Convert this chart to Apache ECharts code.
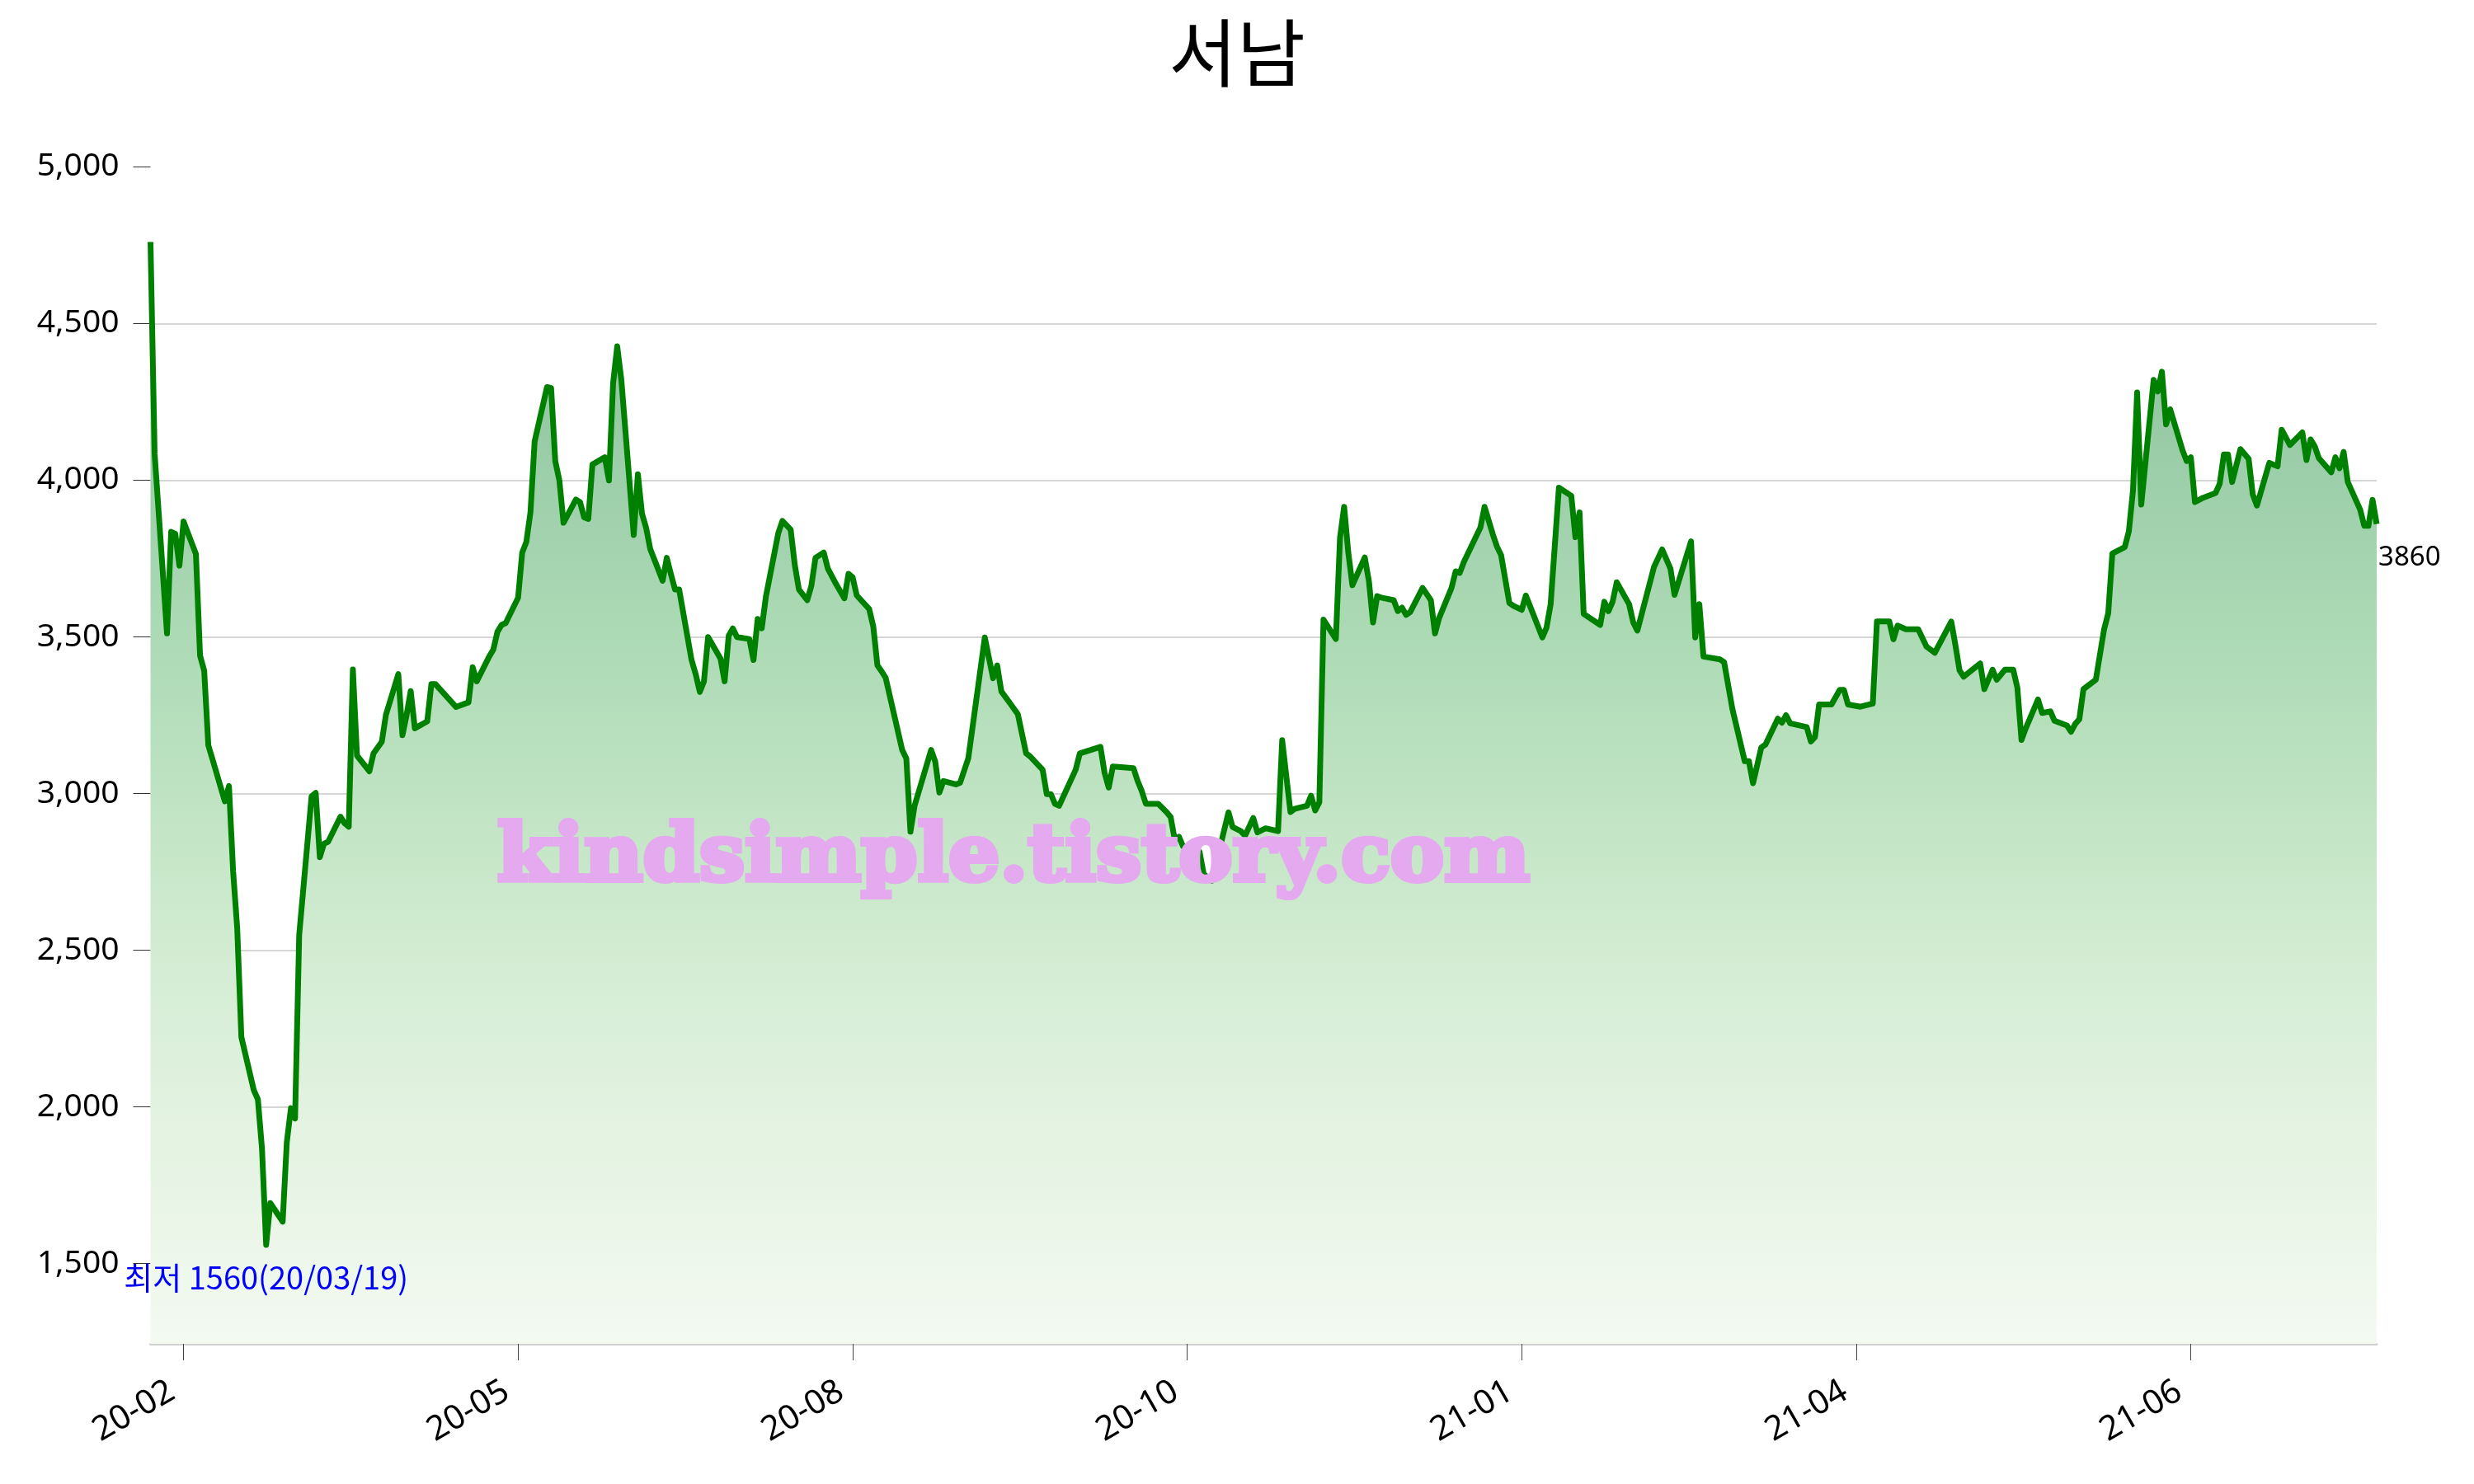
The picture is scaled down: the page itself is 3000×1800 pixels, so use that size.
<!DOCTYPE html>
<html>
<head>
<meta charset="utf-8">
<script src="https://cdn.jsdelivr.net/npm/echarts@6/dist/echarts.min.js"></script>
<style>
html,body{margin:0;padding:0;background:#ffffff;}
#chart{width:3000px;height:1800px;}
</style>
</head>
<body>
<div id="chart"></div>
<script>
// ---------------- data ----------------
const chartTitle = '서남';
const startDate = '2020-02-20';     // first calendar day of the x axis
const totalDays = 540;              // calendar days shown on the x axis

// trading days, as days counted from startDate
const daysFromStart = [
  0,1,4,5,6,7,8,11,12,13,
  14,15,18,19,20,21,22,25,26,27,
  28,29,32,33,34,35,36,39,40,41,
  42,43,46,47,48,49,50,53,54,56,
  57,60,61,62,63,64,67,68,69,74,
  77,78,79,82,83,84,85,86,89,90,
  91,92,93,96,97,98,99,100,103,104,
  105,106,107,110,111,112,113,114,117,118,
  119,120,121,124,125,126,127,128,131,132,
  133,134,135,138,139,140,141,142,145,146,
  147,148,149,152,153,155,156,157,159,160,
  161,163,164,166,168,169,170,171,174,175,
  176,177,178,182,183,184,185,189,190,191,
  192,195,196,198,202,204,205,206,208,210,
  212,213,216,217,218,219,220,224,225,230,
  231,232,233,238,239,240,241,244,246,247,
  248,249,250,254,255,257,259,261,262,264,
  265,267,268,270,273,274,276,277,280,281,
  282,283,284,287,288,289,290,291,294,295,
  296,297,298,301,302,303,304,305,308,310,
  311,312,315,316,317,318,322,323,325,326,
  327,329,330,332,333,337,338,339,341,344,
  345,346,347,351,352,353,354,355,358,359,
  360,364,366,368,369,373,374,375,376,380,
  381,383,386,387,388,390,391,394,395,396,
  397,401,402,403,404,407,409,410,411,414,
  417,418,421,422,423,425,428,430,432,436,
  437,438,439,443,444,446,447,449,451,452,
  453,454,457,458,460,461,464,465,466,467,
  468,471,473,474,475,478,479,480,481,482,
  485,486,487,488,489,492,493,494,495,497,
  500,501,502,503,504,506,508,509,510,513,
  515,516,518,521,522,523,524,525,528,529,
  530,531,532,535,536,537,538,539
];

// closing prices for those days
const closes = [
  4760,4084,3511,3835,3829,3727,3868,3764,3440,3392,
  3154,3110,2975,3024,2753,2569,2223,2054,2024,1866,
  1560,1693,1634,1887,1996,1963,2548,2991,3002,2797,
  2840,2846,2926,2905,2894,3396,3121,3071,3128,3165,
  3251,3381,3186,3250,3327,3208,3230,3349,3349,3276,
  3291,3403,3358,3437,3459,3516,3538,3544,3625,3769,
  3803,3898,4123,4297,4294,4061,3999,3864,3938,3930,
  3881,3876,4050,4073,3999,4309,4427,4320,3825,4019,
  3893,3848,3780,3679,3752,3700,3651,3651,3426,3381,
  3324,3358,3499,3431,3358,3504,3527,3499,3493,3426,
  3557,3527,3628,3831,3870,3842,3729,3651,3617,3662,
  3752,3769,3718,3668,3623,3701,3690,3632,3589,3533,
  3409,3390,3369,3139,3112,2878,2961,3139,3102,3003,
  3040,3029,3034,3112,3498,3368,3409,3326,3290,3253,
  3128,3118,3076,2998,2998,2967,2961,3076,3128,3149,
  3066,3019,3086,3081,3040,3008,2967,2967,2941,2925,
  2852,2862,2831,2814,2743,2722,2831,2940,2893,2880,
  2865,2922,2876,2889,2880,3170,2941,2951,2961,2993,
  2946,2972,3555,3493,3816,3915,3770,3665,3753,3678,
  3546,3630,3625,3617,3582,3593,3570,3579,3656,3617,
  3511,3560,3656,3709,3704,3739,3849,3915,3827,3788,
  3761,3608,3599,3586,3632,3498,3529,3604,3976,3950,
  3818,3897,3573,3538,3612,3582,3612,3674,3604,3546,
  3520,3722,3779,3718,3634,3805,3498,3604,3437,3428,
  3419,3270,3103,3103,3033,3147,3156,3239,3226,3250,
  3224,3212,3166,3180,3284,3284,3331,3331,3284,3277,
  3287,3549,3549,3492,3536,3524,3524,3469,3449,3549,
  3474,3393,3373,3415,3333,3395,3363,3395,3395,3338,
  3171,3207,3300,3257,3262,3232,3217,3197,3222,3237,
  3333,3363,3524,3575,3766,3786,3837,3968,4280,3922,
  4320,4283,4346,4178,4226,4095,4061,4073,3930,3944,
  3959,3989,4082,4082,3994,4099,4068,3954,3919,4055,
  4044,4161,4112,4152,4064,4130,4108,4070,4025,4073,
  4038,4090,3994,3906,3854,3854,3937,3860
];

// axis ticks
const yTickValues = [1500, 2000, 2500, 3000, 3500, 4000, 4500, 5000];
const xTickDays   = [8, 89, 170, 251, 332, 413, 494];
const xTickLabels = ['20-02', '20-05', '20-08', '20-10', '21-01', '21-04', '21-06'];

// annotations
const lowNote  = { day: 28,  value: 1560, text: '최저 1560(20/03/19)' };
const lastNote = { day: 539, value: 3860, text: '3860' };
const watermarkText = 'kindsimple.tistory.com';

// ---------------- build ----------------
const base = Date.UTC(2020, 1, 20);
const dayName = d => new Date(base + d * 86400000).toISOString().slice(0, 10);
const calendar = [];
for (let d = 0; d < totalDays; d++) calendar.push(dayName(d));
const seriesData = daysFromStart.map((d, i) => [dayName(d), closes[i]]);
const tickLabelOf = {};
xTickDays.forEach((d, i) => { tickLabelOf[d] = xTickLabels[i]; });
const isTick = idx => tickLabelOf[idx] !== undefined;

// watermark: stretch a bold serif to the width of the original lettering
const wmFontSize = 80;
const wmStroke = 5;
const measureCtx = document.createElement('canvas').getContext('2d');
measureCtx.font = 'bold ' + wmFontSize + 'px "DejaVu Serif"';
const wmWidth = measureCtx.measureText(watermarkText).width + wmStroke;
const wmScaleX = 1258 / wmWidth;

const chart = echarts.init(document.getElementById('chart'), null, { renderer: 'canvas' });

chart.setOption({
  animation: false,
  backgroundColor: '#ffffff',
  title: {
    text: chartTitle,
    left: 'center',
    top: 14,
    textStyle: { fontSize: 90, fontWeight: 'normal', color: '#000000', fontFamily: 'Noto Sans CJK KR' }
  },
  grid: { left: 182.5, right: 118, top: 107.2, bottom: 170, containLabel: false },
  xAxis: {
    type: 'category',
    data: calendar,
    boundaryGap: false,
    axisLine: { show: true, lineStyle: { color: '#d0d0d0', width: 3 } },
    axisTick: { show: true, interval: isTick, length: 20, lineStyle: { color: '#444444', width: 1 } },
    axisLabel: {
      show: true,
      interval: isTick,
      formatter: (v, idx) => tickLabelOf[idx] || '',
      rotate: 30,
      margin: 47,
      padding: [0, 16, 0, 0],
      fontSize: 41,
      color: '#000000',
      fontFamily: 'Noto Sans'
    },
    splitLine: { show: false }
  },
  yAxis: {
    type: 'value',
    min: 1244,
    max: 5250,
    splitNumber: 8,
    axisLine: { show: false },
    axisTick: { show: true, length: 21, customValues: yTickValues, lineStyle: { color: '#333333', width: 1 } },
    axisLabel: {
      show: true,
      customValues: yTickValues,
      formatter: v => Number(v).toLocaleString('en-US'),
      margin: 38,
      fontSize: 39,
      color: '#000000',
      fontFamily: 'Noto Sans'
    },
    splitLine: { show: true, showMinLine: false, showMaxLine: false, lineStyle: { color: '#d6d6d6', width: 2 } }
  },
  series: [{
    type: 'line',
    data: seriesData,
    symbol: 'none',
    showSymbol: false,
    connectNulls: true,
    lineStyle: { color: '#008000', width: 7, join: 'round', cap: 'butt' },
    areaStyle: {
      origin: 'start',
      opacity: 1,
      color: new echarts.graphic.LinearGradient(0, 0, 0, 1, [
        { offset: 0, color: '#8fc39c' },
        { offset: 0.13, color: '#94c7a1' },
        { offset: 0.216, color: '#9dcfaa' },
        { offset: 0.357, color: '#acdab5' },
        { offset: 0.5, color: '#bfe3c2' },
        { offset: 0.642, color: '#d2ecd2' },
        { offset: 0.784, color: '#e2f2e0' },
        { offset: 0.926, color: '#edf7eb' },
        { offset: 1, color: '#f4faf2' }
      ])
    },
    markPoint: {
      symbol: 'circle',
      symbolSize: 0,
      silent: true,
      data: [
        {
          coord: [dayName(lowNote.day), lowNote.value],
          label: { show: true, formatter: lowNote.text, position: 'inside', offset: [0, 40],
                   color: '#0000ff', fontSize: 38, fontFamily: 'Noto Sans CJK KR' }
        },
        {
          coord: [dayName(lastNote.day), lastNote.value],
          label: { show: true, formatter: lastNote.text, position: 'inside', align: 'left', offset: [2, 41],
                   color: '#000000', fontSize: 33, fontFamily: 'Noto Sans' }
        }
      ]
    },
    z: 3
  }],
  graphic: [{
    type: 'text',
    x: 1229,
    y: 1043,
    scaleX: wmScaleX,
    scaleY: 1.2,
    z: 100,
    silent: true,
    style: {
      text: watermarkText,
      fill: '#e4a9ee',
      stroke: '#e4a9ee',
      lineWidth: wmStroke,
      fontSize: wmFontSize,
      fontWeight: 'bold',
      fontFamily: 'DejaVu Serif',
      textAlign: 'center',
      textVerticalAlign: 'middle'
    }
  }]
});
</script>
</body>
</html>
